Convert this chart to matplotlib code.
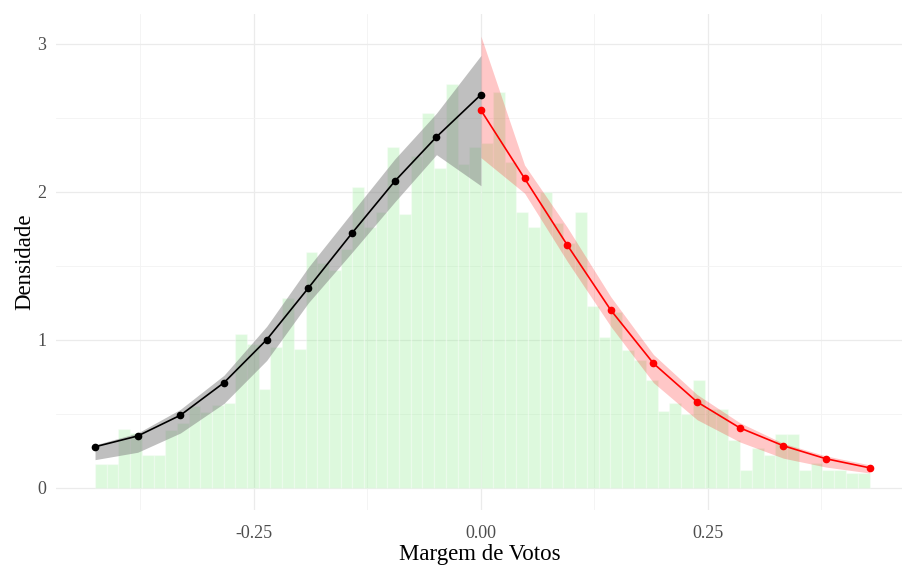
import numpy as np
import matplotlib.pyplot as plt
from matplotlib.ticker import MultipleLocator

plt.rcParams['font.family'] = ['Liberation Serif', 'DejaVu Serif']

# histogram (density) - 33 bins on each side of the cutoff
left_edges = np.linspace(-0.425, 0.0, 34)
right_edges = np.linspace(0.0, 0.428, 34)
left_density = [0.16, 0.16, 0.40, 0.37, 0.22, 0.22, 0.39, 0.44, 0.55, 0.51, 0.56,
                0.57, 1.04, 0.97, 0.67, 0.95, 1.28, 0.94, 1.59, 1.52, 1.47, 1.61,
                2.03, 1.76, 1.86, 2.30, 1.85, 2.24, 2.53, 2.16, 2.73, 2.19, 2.30]
right_density = [2.33, 2.67, 2.20, 1.86, 1.76, 2.00, 1.79, 1.65, 1.86, 1.23, 1.02,
                 1.19, 0.93, 0.86, 0.73, 0.52, 0.57, 0.50, 0.73, 0.53, 0.53, 0.32,
                 0.12, 0.27, 0.22, 0.36, 0.36, 0.12, 0.17, 0.12, 0.12, 0.10, 0.10]

# binned means (points) and confidence bands
x_left = [-0.425, -0.378, -0.331, -0.283, -0.236, -0.190, -0.142, -0.095, -0.049, 0.0]
y_left = [0.277, 0.35, 0.49, 0.71, 1.00, 1.35, 1.72, 2.07, 2.37, 2.655]
lo_left = [0.19, 0.24, 0.37, 0.57, 0.86, 1.25, 1.59, 1.93, 2.25, 2.04]
hi_left = [0.29, 0.37, 0.53, 0.76, 1.09, 1.49, 1.86, 2.22, 2.53, 2.92]

x_right = [0.0, 0.048, 0.095, 0.143, 0.190, 0.238, 0.285, 0.333, 0.380, 0.428]
y_right = [2.55, 2.09, 1.64, 1.20, 0.84, 0.58, 0.405, 0.284, 0.196, 0.135]
lo_right = [2.23, 1.99, 1.53, 1.09, 0.71, 0.46, 0.31, 0.20, 0.14, 0.10]
hi_right = [3.05, 2.18, 1.76, 1.29, 0.90, 0.63, 0.44, 0.30, 0.215, 0.155]

fig = plt.figure(figsize=(9.03, 5.67), dpi=100)
ax = fig.add_axes([56 / 903, 57 / 567, 847 / 903, 496 / 567])

for edges, dens in [(left_edges, left_density), (right_edges, right_density)]:
    ax.bar(edges[:-1], dens, width=np.diff(edges), align='edge',
           color='lightgreen', alpha=0.3, edgecolor='white', linewidth=1.0, zorder=2)

ax.fill_between(x_left, lo_left, hi_left, color='gray', alpha=0.5, linewidth=0, zorder=3)
ax.fill_between(x_right, lo_right, hi_right, color='red', alpha=0.22, linewidth=0, zorder=3)

ax.plot(x_left, y_left, color='black', lw=1.2, marker='o', ms=4.5, zorder=4)
ax.plot(x_right, y_right, color='red', lw=1.2, marker='o', ms=4.5, zorder=4)

ax.set_xlim(-0.468, 0.4648)
ax.set_ylim(-0.15, 3.2)
ax.set_xticks([-0.25, 0.0, 0.25])
ax.set_xticklabels(['-0.25', '0.00', '0.25'])
ax.set_yticks([0, 1, 2, 3])
ax.xaxis.set_minor_locator(MultipleLocator(0.125))
ax.yaxis.set_minor_locator(MultipleLocator(0.5))

ax.grid(True, which='major', color='#ebebeb', lw=0.9, zorder=0)
ax.grid(True, which='minor', color='#f3f3f3', lw=0.6, zorder=0)
ax.set_axisbelow(True)
for s in ax.spines.values():
    s.set_visible(False)
ax.tick_params(which='both', length=0, labelsize=13, labelcolor='#4d4d4d')
ax.tick_params(axis='x', pad=11)
ax.tick_params(axis='y', pad=7)

ax.set_xlabel('Margem de Votos', fontsize=16.5, labelpad=1)
ax.set_ylabel('Densidade', fontsize=16.5, labelpad=1)

fig.savefig('out.png', dpi=100)
